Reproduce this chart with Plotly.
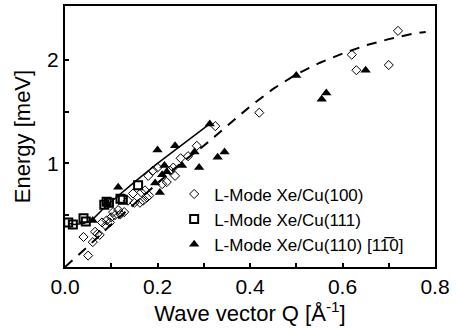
import plotly.graph_objects as go

# L-Mode Xe/Cu(100) - open diamonds
q100 = [0.04, 0.05, 0.06, 0.065, 0.07, 0.075, 0.08, 0.088, 0.09, 0.097, 0.10, 0.104, 0.108, 0.115,
        0.12, 0.128, 0.136, 0.147, 0.15, 0.162, 0.165, 0.169, 0.173, 0.177, 0.182, 0.18, 0.19, 0.20,
        0.21, 0.22, 0.227, 0.234, 0.238, 0.25, 0.266, 0.285, 0.325, 0.42, 0.62, 0.63, 0.70, 0.72]
e100 = [0.29, 0.11, 0.24, 0.34, 0.32, 0.31, 0.43, 0.40, 0.45, 0.43, 0.48, 0.53, 0.50, 0.55,
        0.51, 0.53, 0.64, 0.71, 0.62, 0.62, 0.72, 0.64, 0.74, 0.67, 0.69, 0.88, 0.93, 0.96,
        0.80, 0.82, 0.93, 0.96, 0.88, 1.05, 1.07, 1.17, 1.36, 1.49, 2.05, 1.90, 1.95, 2.28]

# L-Mode Xe/Cu(111) - open squares
q111 = [0.007, 0.017, 0.04, 0.045, 0.085, 0.09, 0.095, 0.12, 0.125, 0.158]
e111 = [0.43, 0.41, 0.47, 0.44, 0.60, 0.63, 0.62, 0.66, 0.65, 0.79]

# L-Mode Xe/Cu(110) [1-10] - filled triangles
q110 = [0.06, 0.09, 0.115, 0.195, 0.20, 0.205, 0.21, 0.215, 0.22, 0.238, 0.253, 0.28, 0.29,
        0.313, 0.33, 0.345, 0.50, 0.555, 0.565, 0.65]
e110 = [0.45, 0.62, 0.77, 0.81, 1.13, 0.72, 0.89, 0.98, 0.92, 1.17, 0.98, 1.11, 0.96,
        1.38, 1.06, 1.11, 1.85, 1.62, 1.68, 1.90]

# solid fit curve (111)
q_fit111 = [0.01, 0.02, 0.04, 0.06, 0.08, 0.10, 0.15, 0.20, 0.25, 0.315]
e_fit111 = [0.42, 0.41, 0.42, 0.46, 0.55, 0.63, 0.82, 1.00, 1.17, 1.39]

# dashed fit curve (100)
q_fit100 = [0.0, 0.05, 0.10, 0.15, 0.20, 0.25, 0.30, 0.35, 0.40, 0.45, 0.50, 0.55, 0.60,
            0.65, 0.70, 0.75, 0.78]
e_fit100 = [0.0, 0.20, 0.41, 0.61, 0.81, 1.00, 1.17, 1.36, 1.55, 1.72, 1.86, 1.97, 2.06,
            2.14, 2.20, 2.25, 2.27]

x_ticks = [0.0, 0.2, 0.4, 0.6, 0.8]
x_minor = [0.1, 0.3, 0.5, 0.7]
y_ticks = [1, 2]
y_minor = [0.5, 1.5]

FONT = "Liberation Sans, Arial, sans-serif"

fig = go.Figure()
fig.add_trace(go.Scatter(x=q_fit100, y=e_fit100, mode="lines", showlegend=False,
                         line=dict(color="black", width=2, dash="10px,8px")))
fig.add_trace(go.Scatter(x=q_fit111, y=e_fit111, mode="lines", showlegend=False,
                         line=dict(color="black", width=1.5)))
fig.add_trace(go.Scatter(x=q100, y=e100, mode="markers", name="L-Mode Xe/Cu(100)",
                         marker=dict(symbol="diamond-open", size=7, color="black",
                                     line=dict(width=1, color="black"))))
fig.add_trace(go.Scatter(x=q111, y=e111, mode="markers", name="L-Mode Xe/Cu(111)",
                         marker=dict(symbol="square-open", size=8, color="black",
                                     line=dict(width=2, color="black"))))
fig.add_trace(go.Scatter(x=q110, y=e110, mode="markers", name="L-Mode Xe/Cu(110) [11\u03050]",
                         marker=dict(symbol="triangle-up", size=9, color="black")))

axis_common = dict(showline=True, linecolor="black", linewidth=2, mirror=True,
                   ticks="inside", ticklen=4, tickwidth=2, tickcolor="black",
                   showgrid=False, zeroline=False,
                   tickfont=dict(family=FONT, size=21, color="black"))

fig.update_xaxes(range=[0, 0.8], tickvals=x_ticks, tickformat=".1f",
                 minor=dict(tickvals=x_minor, ticks="inside", ticklen=4, tickwidth=2, tickcolor="black"),
                 title=dict(text="Wave vector Q [Å<sup>-1</sup>]", font=dict(family=FONT, size=22, color="black"),
                            standoff=5),
                 **axis_common)
fig.update_yaxes(range=[0, 2.52], tickvals=y_ticks,
                 minor=dict(tickvals=y_minor, ticks="inside", ticklen=4, tickwidth=2, tickcolor="black"),
                 title=dict(text="Energy [meV]", font=dict(family=FONT, size=22, color="black"),
                            standoff=10),
                 **axis_common)

fig.update_layout(
    width=456, height=330,
    margin=dict(l=65, r=21, t=4, b=63),
    paper_bgcolor="white", plot_bgcolor="white",
    legend=dict(x=0.295, y=0.347, xanchor="left", yanchor="top",
                font=dict(family=FONT, size=17, color="black"),
                bgcolor="rgba(0,0,0,0)", borderwidth=0, tracegroupgap=0,
                itemwidth=30),
)

fig.write_html("out.html")
